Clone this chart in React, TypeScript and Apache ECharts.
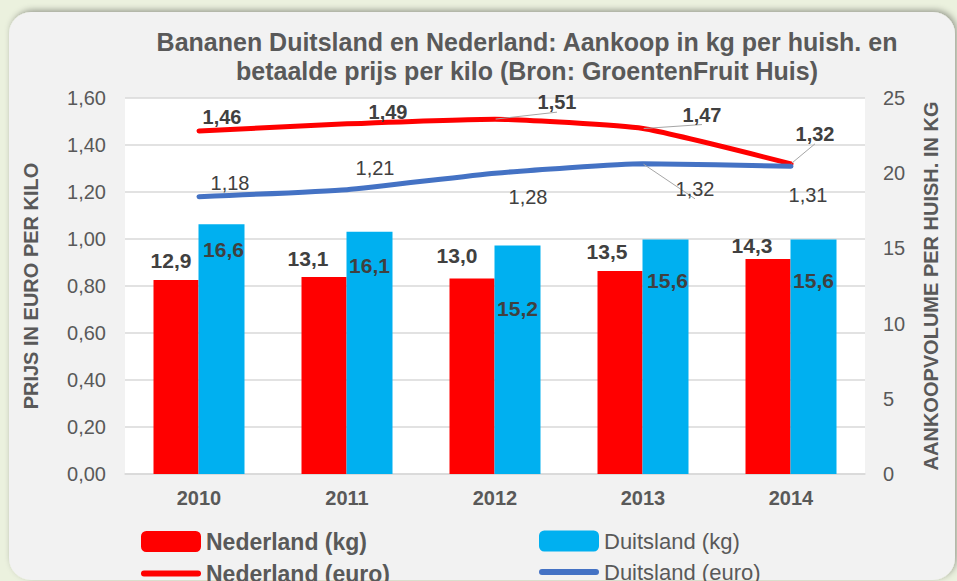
import React, { useEffect, useRef } from "react";
import * as echarts from "echarts";

const years = ["2010", "2011", "2012", "2013", "2014"];
const ndKg = [12.9, 13.1, 13.0, 13.5, 14.3];
const deKg = [16.6, 16.1, 15.2, 15.6, 15.6];
const ndEuro = [1.46, 1.49, 1.51, 1.47, 1.32];
const deEuro = [1.18, 1.21, 1.28, 1.32, 1.31];

// label placement (layout only)
const ndKgLabelOffset = [[-5, -4], [-16, -3], [-15, -7], [-13, -4], [-16, 2]];
const deKgLabelOffset = [[2, 10], [0, 18], [0, 48], [2, 26], [0, 26]];
const ndEuroLabelOffset = [[23, -14], [41, -12], [62, -17], [59, -14], [24, -30]];
const deEuroLabelOffset = [[31, -14], [28, -22], [33, 24], [52, 25], [17, 29]];
// which labels have a leader line (layout only)
const ndKgLeader = [false, true, false, false, false];
const ndEuroLeader = [false, false, true, true, true];
const deEuroLeader = [false, false, false, true, false];

const FONT = "'Liberation Sans', Arial, sans-serif";
const TXT = "#595959";
const DARK = "#404040";
const fmt = (v: number) => v.toFixed(1).replace(".", ",");
const fmt2 = (v: number) => v.toFixed(2).replace(".", ",");
const leader = (on: boolean) => ({
  show: on,
  lineStyle: { color: "#A6A6A6", width: 1 },
});

export default function App() {
  const ref = useRef<HTMLDivElement>(null);
  useEffect(() => {
    if (!ref.current) return;
    const chart = echarts.init(ref.current, null, { renderer: "svg" });
    const lineIcon = "path://M3,0 H57 A3,3 0 0 1 57,6 H3 A3,3 0 0 1 3,0 Z";
    chart.setOption({
      animation: false,
      graphic: [
        {
          type: "rect",
          z: -10,
          silent: true,
          shape: { x: 9, y: 12, width: 946, height: 568, r: 22 },
          style: {
            fill: "#F2F2F2",
            shadowBlur: 6,
            shadowOffsetX: 2,
            shadowOffsetY: -2,
            shadowColor: "rgba(0,0,0,0.35)",
          },
        },
      ],
      title: {
        text: "Bananen Duitsland en Nederland: Aankoop in kg per huish. en\nbetaalde prijs per kilo (Bron: GroentenFruit Huis)",
        left: 522,
        top: 22,
        textAlign: "center",
        textStyle: {
          fontFamily: FONT,
          fontSize: 25,
          fontWeight: "bold",
          color: TXT,
          lineHeight: 29,
        },
      },
      legend: [
        {
          left: 136,
          top: 525,
          height: 120,
          orient: "vertical",
          itemWidth: 60,
          itemHeight: 21,
          itemGap: 9,
          textStyle: { fontFamily: FONT, fontSize: 23, color: TXT, fontWeight: "bold" },
          data: [
            { name: "Nederland (kg)", icon: "roundRect" },
            { name: "Nederland (euro)", icon: lineIcon },
          ],
        },
        {
          left: 534,
          top: 525,
          height: 120,
          orient: "vertical",
          itemWidth: 60,
          itemHeight: 21,
          itemGap: 9,
          textStyle: { fontFamily: FONT, fontSize: 22, color: TXT },
          data: [
            { name: "Duitsland (kg)", icon: "roundRect" },
            { name: "Duitsland (euro)", icon: lineIcon },
          ],
        },
      ],
      grid: {
        left: 125,
        right: 92,
        top: 98,
        bottom: 107,
        show: true,
        backgroundColor: "#FFFFFF",
        borderWidth: 0,
      },
      xAxis: {
        type: "category",
        data: years,
        axisTick: { show: false },
        axisLine: { show: true, lineStyle: { color: "#D9D9D9", width: 1.5 } },
        axisLabel: {
          margin: 14,
          fontFamily: FONT,
          fontSize: 20,
          fontWeight: "bold",
          color: TXT,
        },
      },
      yAxis: [
        {
          type: "value",
          min: 0,
          max: 1.6,
          interval: 0.2,
          name: "PRIJS IN EURO PER KILO",
          nameLocation: "middle",
          nameRotate: 90,
          nameGap: 84,
          nameTextStyle: { fontFamily: FONT, fontSize: 20, fontWeight: "bold", color: TXT },
          axisLine: { show: false },
          axisTick: { show: false },
          splitLine: { lineStyle: { color: "#D9D9D9", width: 1.5 } },
          axisLabel: {
            margin: 19,
            fontFamily: FONT,
            fontSize: 20,
            color: TXT,
            formatter: (v: number) => fmt2(v),
          },
        },
        {
          type: "value",
          min: 0,
          max: 25,
          interval: 5,
          name: "AANKOOPVOLUME PER HUISH. IN KG",
          nameLocation: "middle",
          nameRotate: 90,
          nameGap: 56,
          nameTextStyle: { fontFamily: FONT, fontSize: 20, fontWeight: "bold", color: TXT },
          axisLine: { show: false },
          axisTick: { show: false },
          splitLine: { show: false },
          axisLabel: { margin: 18, fontFamily: FONT, fontSize: 20, color: TXT },
        },
      ],
      series: [
        {
          name: "Nederland (kg)",
          type: "bar",
          yAxisIndex: 1,
          barWidth: 45,
          barGap: "0%",
          itemStyle: { color: "#FF0000" },
          label: {
            show: true,
            position: "top",
            fontFamily: FONT,
            fontSize: 21,
            fontWeight: "bold",
            color: DARK,
            formatter: (p: any) => fmt(p.value),
          },
          data: ndKg.map((v, i) => ({
            value: v,
            label: { offset: ndKgLabelOffset[i] },
            labelLine: leader(ndKgLeader[i]),
          })),
        },
        {
          name: "Duitsland (kg)",
          type: "bar",
          yAxisIndex: 1,
          barWidth: 46,
          barGap: "0%",
          itemStyle: { color: "#00B0F0" },
          label: {
            show: true,
            position: "insideTop",
            fontFamily: FONT,
            fontSize: 21,
            fontWeight: "bold",
            color: DARK,
            formatter: (p: any) => fmt(p.value),
          },
          data: deKg.map((v, i) => ({ value: v, label: { offset: deKgLabelOffset[i] } })),
        },
        {
          name: "Nederland (euro)",
          type: "line",
          yAxisIndex: 0,
          smooth: 0.15,
          symbol: "circle",
          symbolSize: 1,
          showSymbol: true,
          itemStyle: { color: "#FF0000" },
          lineStyle: { color: "#FF0000", width: 5, cap: "round" },
          label: {
            show: true,
            position: "inside",
            fontFamily: FONT,
            fontSize: 20,
            fontWeight: "bold",
            color: DARK,
            formatter: (p: any) => fmt2(p.value),
          },
          data: ndEuro.map((v, i) => ({
            value: v,
            label: { offset: ndEuroLabelOffset[i] },
            labelLine: leader(ndEuroLeader[i]),
          })),
        },
        {
          name: "Duitsland (euro)",
          type: "line",
          yAxisIndex: 0,
          smooth: 0.15,
          symbol: "circle",
          symbolSize: 1,
          showSymbol: true,
          itemStyle: { color: "#4472C4" },
          lineStyle: { color: "#4472C4", width: 5, cap: "round" },
          label: {
            show: true,
            position: "inside",
            fontFamily: FONT,
            fontSize: 20,
            color: DARK,
            formatter: (p: any) => fmt2(p.value),
          },
          data: deEuro.map((v, i) => ({
            value: v,
            label: { offset: deEuroLabelOffset[i] },
            labelLine: leader(deEuroLeader[i]),
          })),
        },
      ],
    });
    return () => chart.dispose();
  }, []);
  return (
    <div
      ref={ref}
      style={{
        position: "fixed",
        left: 0,
        top: 0,
        width: 957,
        height: 581,
        background: "#EBF1DE",
      }}
    />
  );
}
